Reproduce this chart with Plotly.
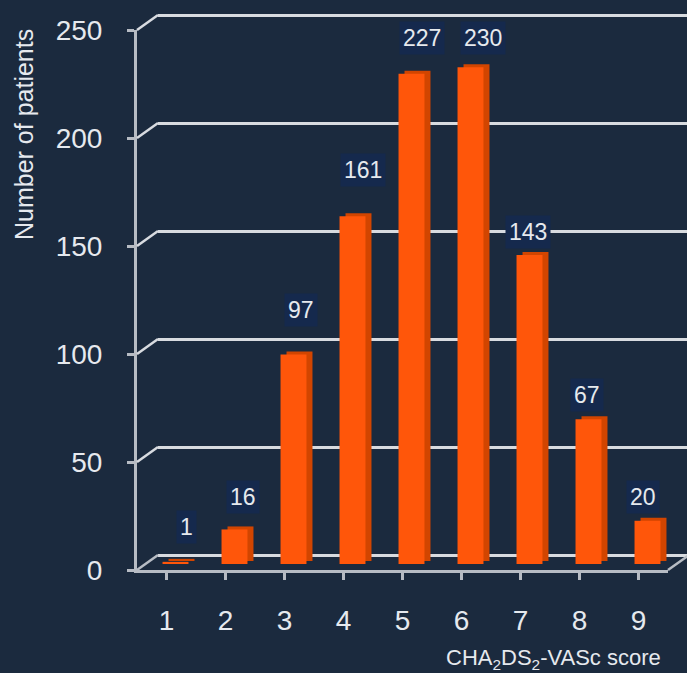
import plotly.graph_objects as go

# ---- data -------------------------------------------------------------
scores = [1, 2, 3, 4, 5, 6, 7, 8, 9]
patients = [1, 16, 97, 161, 227, 230, 143, 67, 20]
y_ticks = [0, 50, 100, 150, 200, 250]

# per-label nudges (pixels) for the value call-outs
label_dx = [11, 8, 7, 10, 10, 12, -2, -2, -5]
label_dy = [35, 32, 44, 46, 36, 29, 23, 24, 24]

# ---- styling ----------------------------------------------------------
W, H = 687, 673
BG = "#1b2a3e"
LABEL_BG = "#15294d"
FRONT = "#ff560a"
SIDE = "#d24500"
GRID = "#d8dbe0"
AXIS = "#b7bcc4"
TEXT = "#e6e9ee"
FONT = "Liberation Sans, Arial, sans-serif"
YMAX = 250
PAD = 5  # headroom (data units) so the end gridlines are not clipped


def fx(px):
    return px / W


def fy(py):
    return 1 - py / H


# pseudo-3D frame: front plane, back wall and the bar plane sit at
# slightly different pixel offsets (depth projection)
front_x = (137, 668)
front_y = (570, 30)
depth_dx, depth_dy = 21, -15
cat_w = (front_x[1] - front_x[0]) / len(scores)
px_per_unit = (front_y[0] - front_y[1]) / YMAX

back_x0 = front_x[0] + depth_dx
back_y = (front_y[0] + depth_dy, front_y[1] + depth_dy)
back_span = (W - back_x0) / cat_w

bar_dx, bar_dy = 9, -6
side_dx, side_dy = 6, -3

fig = go.Figure()

# invisible carriers so the front axes and the back wall get drawn
for xa, ya in (("x", "y"), ("x2", "y2")):
    fig.add_trace(go.Scatter(
        x=scores, y=patients, xaxis=xa, yaxis=ya, mode="markers",
        marker=dict(opacity=0), hoverinfo="skip", showlegend=False,
    ))

# back face of each bar (gives the extruded look)
fig.add_trace(go.Bar(
    x=scores, y=patients, xaxis="x3", yaxis="y3",
    marker=dict(color=SIDE, line=dict(width=0)), width=0.44,
    hoverinfo="skip", showlegend=False,
))
# front face of each bar
fig.add_trace(go.Bar(
    x=scores, y=patients, xaxis="x4", yaxis="y4",
    marker=dict(color=FRONT, line=dict(width=0)), width=0.44,
    showlegend=False,
))

bar_x = (front_x[0] + bar_dx, front_x[1] + bar_dx)
bar_y = (front_y[0] + bar_dy, front_y[1] + bar_dy)
side_x = (bar_x[0] + side_dx, bar_x[1] + side_dx)
side_y = (bar_y[0] + side_dy, bar_y[1] + side_dy)

hidden = dict(visible=False, fixedrange=True, automargin=False)
pad_px = PAD * px_per_unit

fig.update_layout(
    template="none",
    width=W, height=H,
    margin=dict(l=0, r=0, t=0, b=0, pad=0, autoexpand=False),
    paper_bgcolor=BG, plot_bgcolor="rgba(0,0,0,0)",
    barmode="overlay",
    font=dict(family=FONT, color=TEXT),
    # front plane: axis lines, ticks and tick labels
    xaxis=dict(
        domain=[fx(front_x[0]), fx(front_x[1])], range=[0.5, 9.5],
        tickvals=scores, ticktext=[str(s) for s in scores],
        tickson="boundaries", ticks="outside", ticklen=7, tickwidth=2.5,
        tickcolor=AXIS, showline=True, linecolor=AXIS, linewidth=3,
        showgrid=False, zeroline=False, ticklabelstandoff=16,
        tickfont=dict(size=28, color=TEXT, family=FONT), fixedrange=True,
        automargin=False,
    ),
    yaxis=dict(
        domain=[fy(front_y[0]), fy(front_y[1])], range=[0, YMAX],
        tickvals=y_ticks, ticks="outside", ticklen=7, tickwidth=2.5,
        tickcolor=AXIS, showline=True, linecolor=AXIS, linewidth=3,
        showgrid=False, zeroline=False, ticklabelstandoff=19,
        tickfont=dict(size=28, color=TEXT, family=FONT), fixedrange=True,
        automargin=False,
    ),
    # back wall: gridlines
    xaxis2=dict(domain=[fx(back_x0), 1], range=[0.5, 0.5 + back_span],
                anchor="y2", showgrid=False, zeroline=False,
                showticklabels=False, ticks="", showline=False,
                fixedrange=True, automargin=False),
    yaxis2=dict(
        domain=[fy(back_y[0] + pad_px), fy(back_y[1] - pad_px)],
        range=[-PAD, YMAX + PAD], anchor="x2",
        tickvals=y_ticks, showticklabels=False, ticks="",
        showgrid=True, gridcolor=GRID, gridwidth=2.5,
        zeroline=False, showline=False, fixedrange=True, automargin=False,
    ),
    # bar planes
    xaxis3=dict(domain=[fx(side_x[0]), fx(side_x[1])], range=[0.5, 9.5],
                anchor="y3", **hidden),
    yaxis3=dict(domain=[fy(side_y[0]), fy(side_y[1])], range=[0, YMAX],
                anchor="x3", **hidden),
    xaxis4=dict(domain=[fx(bar_x[0]), fx(bar_x[1])], range=[0.5, 9.5],
                anchor="y4", **hidden),
    yaxis4=dict(domain=[fy(bar_y[0]), fy(bar_y[1])], range=[0, YMAX],
                anchor="x4", **hidden),
)


def front_pt(v):
    d = fig.layout.yaxis.domain
    return d[0] + v / YMAX * (d[1] - d[0])


def back_pt(v):
    d = fig.layout.yaxis2.domain
    return d[0] + (v + PAD) / (YMAX + 2 * PAD) * (d[1] - d[0])


# left-wall diagonals joining the front axis to each back gridline
shapes = []
for v in y_ticks:
    shapes.append(dict(
        type="line", xref="paper", yref="paper",
        x0=fx(front_x[0]), y0=front_pt(v), x1=fx(back_x0), y1=back_pt(v),
        line=dict(color=GRID if v else AXIS, width=2.5),
    ))
# right edge of the floor
shapes.append(dict(
    type="line", xref="paper", yref="paper",
    x0=fx(front_x[1]), y0=front_pt(0),
    x1=fx(front_x[1] + depth_dx), y1=back_pt(0),
    line=dict(color=AXIS, width=2.5),
))
fig.update_layout(shapes=shapes)

# value call-outs
annotations = []
for s, v, dx, dy in zip(scores, patients, label_dx, label_dy):
    annotations.append(dict(
        x=s, y=v, xref="x4", yref="y4", text=str(v), showarrow=False,
        xanchor="center", yanchor="middle", xshift=dx, yshift=dy,
        font=dict(size=23, color=TEXT, family=FONT),
        bgcolor=LABEL_BG, borderpad=3,
    ))

# axis titles
annotations.append(dict(
    x=fx(24), y=fy(135), xref="paper", yref="paper",
    text="Number of patients", textangle=-90, showarrow=False,
    xanchor="center", yanchor="middle",
    font=dict(size=25, color=TEXT, family=FONT),
))
annotations.append(dict(
    x=fx(553), y=fy(659), xref="paper", yref="paper",
    text="CHA<sub>2</sub>DS<sub>2</sub>-VASc score", showarrow=False,
    xanchor="center", yanchor="middle",
    font=dict(size=22, color=TEXT, family=FONT),
))
fig.update_layout(annotations=annotations)

fig.write_html("out.html")
